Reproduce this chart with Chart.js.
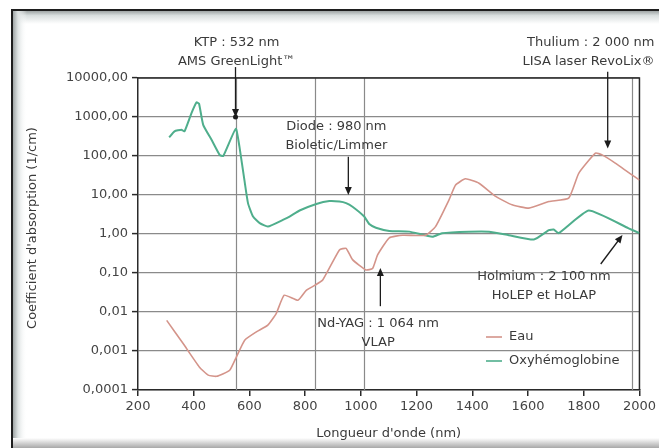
<!DOCTYPE html>
<html>
<head>
<meta charset="utf-8">
<script src="https://cdn.jsdelivr.net/npm/chart.js@4/dist/chart.umd.min.js"></script>
<style>
  html, body { margin: 0; padding: 0; background: #fff; }
  #wrap { width: 659px; height: 448px; position: relative; }
</style>
</head>
<body>
<div id="wrap"><canvas id="c" width="659" height="448"></canvas></div>
<script>
// Données ---------------------------------------------------------------------
const eauNm  = [303, 362, 420, 452, 482, 529, 553, 583, 625, 666, 696, 725, 774, 804, 834, 863, 923, 947, 970, 1018, 1042, 1060, 1102, 1150, 1232, 1268, 1316, 1340, 1375, 1424, 1484, 1543, 1603, 1675, 1746, 1782, 1842, 1866, 1913, 2000];
const eauVal = [0.0061, 0.00155, 0.00039, 0.00024, 0.000224, 0.00032, 0.0007, 0.0019, 0.0031, 0.0046, 0.0091, 0.027, 0.020, 0.036, 0.048, 0.066, 0.39, 0.43, 0.22, 0.12, 0.13, 0.29, 0.8, 0.93, 0.93, 1.55, 7.4, 18, 26, 20, 9.2, 5.6, 4.6, 6.8, 8.3, 36, 118, 107, 66, 24];

const oxyNm  = [312, 331, 356, 367, 392, 410, 419, 434, 464, 493, 506, 551, 564, 582, 595, 613, 637, 666, 720, 744, 780, 840, 887, 923, 947, 970, 1012, 1030, 1054, 1102, 1174, 1257, 1291, 1388, 1460, 1531, 1621, 1675, 1692, 1710, 1818, 1961, 2000];
const oxyVal = [300, 430, 470, 430, 1260, 2370, 2200, 630, 260, 107, 100, 500, 176, 24, 6.1, 2.8, 1.9, 1.55, 2.3, 2.8, 4.0, 5.9, 7.0, 6.8, 6.2, 5.0, 2.8, 1.8, 1.45, 1.2, 1.15, 0.85, 1.05, 1.15, 1.15, 0.93, 0.72, 1.25, 1.3, 1.05, 4.0, 1.4, 1.05];

const yTicks  = [0.0001, 0.001, 0.01, 0.1, 1, 10, 100, 1000, 10000];
const yLabels = ["0,0001", "0,001", "0,01", "0,10", "1,00", "10,00", "100,00", "1000,00", "10000,00"];
const xTicks  = [200, 400, 600, 800, 1000, 1200, 1400, 1600, 1800, 2000];

// lignes verticales de la grille (nm)
const vLines = [550, 837, 1010, 1972];

const seriesNames  = ["Eau", "Oxyhémoglobine"];
const seriesColors = ["#d4948a", "#4fae8c"];

// Annotations (texte + flèche) en coordonnées de données
const notes = [
  { lines: ["KTP : 532 nm", "AMS GreenLight\u2122"], at: [554, 10 ** 4.91], align: "center", from: [550, 10 ** 4.28], to: [550, 1000], dot: true },
  { lines: ["Diode : 980 nm", "Bioletic/Limmer"], at: [912, 562], align: "center", from: [955, 95], to: [955, 10] },
  { lines: ["Thulium : 2 000 nm", "LISA laser RevoLix\u00ae"], at: [2054, 10 ** 4.91], align: "right", from: [1886, 10 ** 4.16], to: [1886, 155] },
  { lines: ["Nd-YAG : 1 064 nm", "VLAP"], at: [1062, 0.0051], align: "center", from: [1070, 0.0141], to: [1070, 0.134] },
  { lines: ["Holmium : 2 100 nm", "HoLEP et HoLAP"], at: [1657, 0.0785], align: "center", from: [1861, 0.17], to: [1939, 0.94] }
];

const FONT = "'DejaVu Sans', sans-serif";
const TXT = "#3a3a3a";

// Cadre de l'image -------------------------------------------------------------
const framePlugin = {
  id: "frame",
  beforeDraw(chart) {
    const ctx = chart.ctx;
    ctx.save();
    ctx.fillStyle = "#fff";
    ctx.fillRect(0, 0, chart.width, chart.height);
    let g = ctx.createLinearGradient(0, 11, 0, 24);
    g.addColorStop(0, "#9fa5a5");
    g.addColorStop(0.35, "#d9dfdf");
    g.addColorStop(1, "#ffffff");
    ctx.fillStyle = g;
    ctx.fillRect(12, 11, 647, 13);
    g = ctx.createLinearGradient(13, 0, 27, 0);
    g.addColorStop(0, "#9fa5a5");
    g.addColorStop(0.35, "#dde2e2");
    g.addColorStop(1, "rgba(255,255,255,0)");
    ctx.fillStyle = g;
    ctx.fillRect(13, 11, 14, 437);
    g = ctx.createLinearGradient(0, 438, 0, 448);
    g.addColorStop(0, "#ffffff");
    g.addColorStop(1, "#a8a8a8");
    ctx.fillStyle = g;
    ctx.fillRect(13, 438, 646, 10);
    ctx.fillStyle = "#1e1e1e";
    ctx.fillRect(11, 9, 648, 2);
    ctx.fillRect(11, 9, 2, 439);
    ctx.restore();
  },
  beforeDatasetsDraw(chart) {
    const { ctx, chartArea: a, scales: { x } } = chart;
    ctx.save();
    ctx.strokeStyle = "#8a8a8a";
    ctx.lineWidth = 1.2;
    vLines.forEach(v => {
      const px = Math.round(x.getPixelForValue(v)) + 0.5;
      ctx.beginPath(); ctx.moveTo(px, a.top); ctx.lineTo(px, a.bottom); ctx.stroke();
    });
    ctx.strokeStyle = "#2a2a2a";
    ctx.lineWidth = 1.5;
    ctx.beginPath();
    ctx.moveTo(a.left, a.top); ctx.lineTo(a.right, a.top); ctx.lineTo(a.right, a.bottom);
    ctx.stroke();
    ctx.restore();
  }
};

function arrow(ctx, x1, y1, x2, y2) {
  const ang = Math.atan2(y2 - y1, x2 - x1);
  ctx.beginPath(); ctx.moveTo(x1, y1); ctx.lineTo(x2 - 4 * Math.cos(ang), y2 - 4 * Math.sin(ang)); ctx.stroke();
  ctx.beginPath();
  ctx.moveTo(x2, y2);
  ctx.lineTo(x2 - 8 * Math.cos(ang) + 3.5 * Math.sin(ang), y2 - 8 * Math.sin(ang) - 3.5 * Math.cos(ang));
  ctx.lineTo(x2 - 8 * Math.cos(ang) - 3.5 * Math.sin(ang), y2 - 8 * Math.sin(ang) + 3.5 * Math.cos(ang));
  ctx.closePath(); ctx.fill();
}

// Annotations, légende et titres -----------------------------------------------
const notesPlugin = {
  id: "notes",
  afterDraw(chart) {
    const { ctx, chartArea: a, scales: { x, y } } = chart;
    ctx.save();
    ctx.font = "13px " + FONT;
    ctx.fillStyle = TXT;
    ctx.textBaseline = "middle";
    notes.forEach(n => {
      const tx = x.getPixelForValue(n.at[0]);
      const ty = y.getPixelForValue(n.at[1]);
      ctx.textAlign = n.align;
      n.lines.forEach((l, i) => ctx.fillText(l, tx, ty + i * 19));
      ctx.strokeStyle = "#1c1c1c";
      ctx.fillStyle = "#1c1c1c";
      ctx.lineWidth = 1.3;
      const x1 = x.getPixelForValue(n.from[0]), y1 = y.getPixelForValue(n.from[1]);
      const x2 = x.getPixelForValue(n.to[0]), y2 = y.getPixelForValue(n.to[1]);
      arrow(ctx, x1, y1, x2, y2);
      if (n.dot) { ctx.beginPath(); ctx.arc(x2, y2, 2.5, 0, Math.PI * 2); ctx.fill(); }
      ctx.fillStyle = TXT;
    });

    // légende
    ctx.textAlign = "left";
    chart.data.datasets.forEach((ds, i) => {
      const ly = 337 + i * 24;
      ctx.strokeStyle = ds.borderColor;
      ctx.lineWidth = 1.6;
      ctx.beginPath(); ctx.moveTo(486, ly); ctx.lineTo(502, ly); ctx.stroke();
      ctx.fillStyle = TXT;
      ctx.fillText(ds.label, 509, ly);
    });

    // titres des axes
    ctx.textAlign = "center";
    ctx.fillText("Longueur d'onde (nm)", (a.left + a.right) / 2, 434);
    ctx.translate(33, (a.top + a.bottom) / 2 - 6);
    ctx.rotate(-Math.PI / 2);
    ctx.fillText("Coefficient d'absorption (1/cm)", 0, 0);
    ctx.restore();
  }
};

const ctx = document.getElementById("c").getContext("2d");
new Chart(ctx, {
  type: "line",
  data: {
    datasets: [
      { label: seriesNames[0], data: eauNm.map((v, i) => ({ x: v, y: eauVal[i] })),
        borderColor: seriesColors[0], borderWidth: 1.6, pointRadius: 0, tension: 0.15, fill: false },
      { label: seriesNames[1], data: oxyNm.map((v, i) => ({ x: v, y: oxyVal[i] })),
        borderColor: seriesColors[1], borderWidth: 2, pointRadius: 0, tension: 0.15, fill: false }
    ]
  },
  options: {
    responsive: false,
    animation: false,
    devicePixelRatio: 1,
    layout: { padding: { left: 0, top: 78, right: 18, bottom: 0 } },
    plugins: { legend: { display: false }, tooltip: { enabled: false } },
    scales: {
      x: {
        type: "linear", min: 200, max: 2000,
        afterBuildTicks: s => { s.ticks = xTicks.map(v => ({ value: v })); },
        afterFit: s => { s.height = 58; },
        ticks: { color: "#444", font: { family: FONT, size: 13 }, padding: 3, maxRotation: 0, autoSkip: false,
          callback: v => String(v) },
        grid: { drawOnChartArea: false, drawTicks: true, tickLength: 6, color: "#2a2a2a", lineWidth: 1.5 },
        border: { color: "#2a2a2a", width: 1.5 }
      },
      y: {
        type: "logarithmic", min: 0.0001, max: 10000,
        afterBuildTicks: s => { s.ticks = yTicks.map(v => ({ value: v })); },
        afterFit: s => { s.width = 138; },
        ticks: { color: "#444", font: { family: FONT, size: 13 }, padding: 4, autoSkip: false,
          callback: (v, i) => yLabels[i] },
        grid: { color: "#8a8a8a", lineWidth: 1.2, tickLength: 6, tickColor: "#2a2a2a", tickWidth: 1.5 },
        border: { color: "#2a2a2a", width: 1.5 }
      }
    }
  },
  plugins: [framePlugin, notesPlugin]
});
</script>
</body>
</html>
